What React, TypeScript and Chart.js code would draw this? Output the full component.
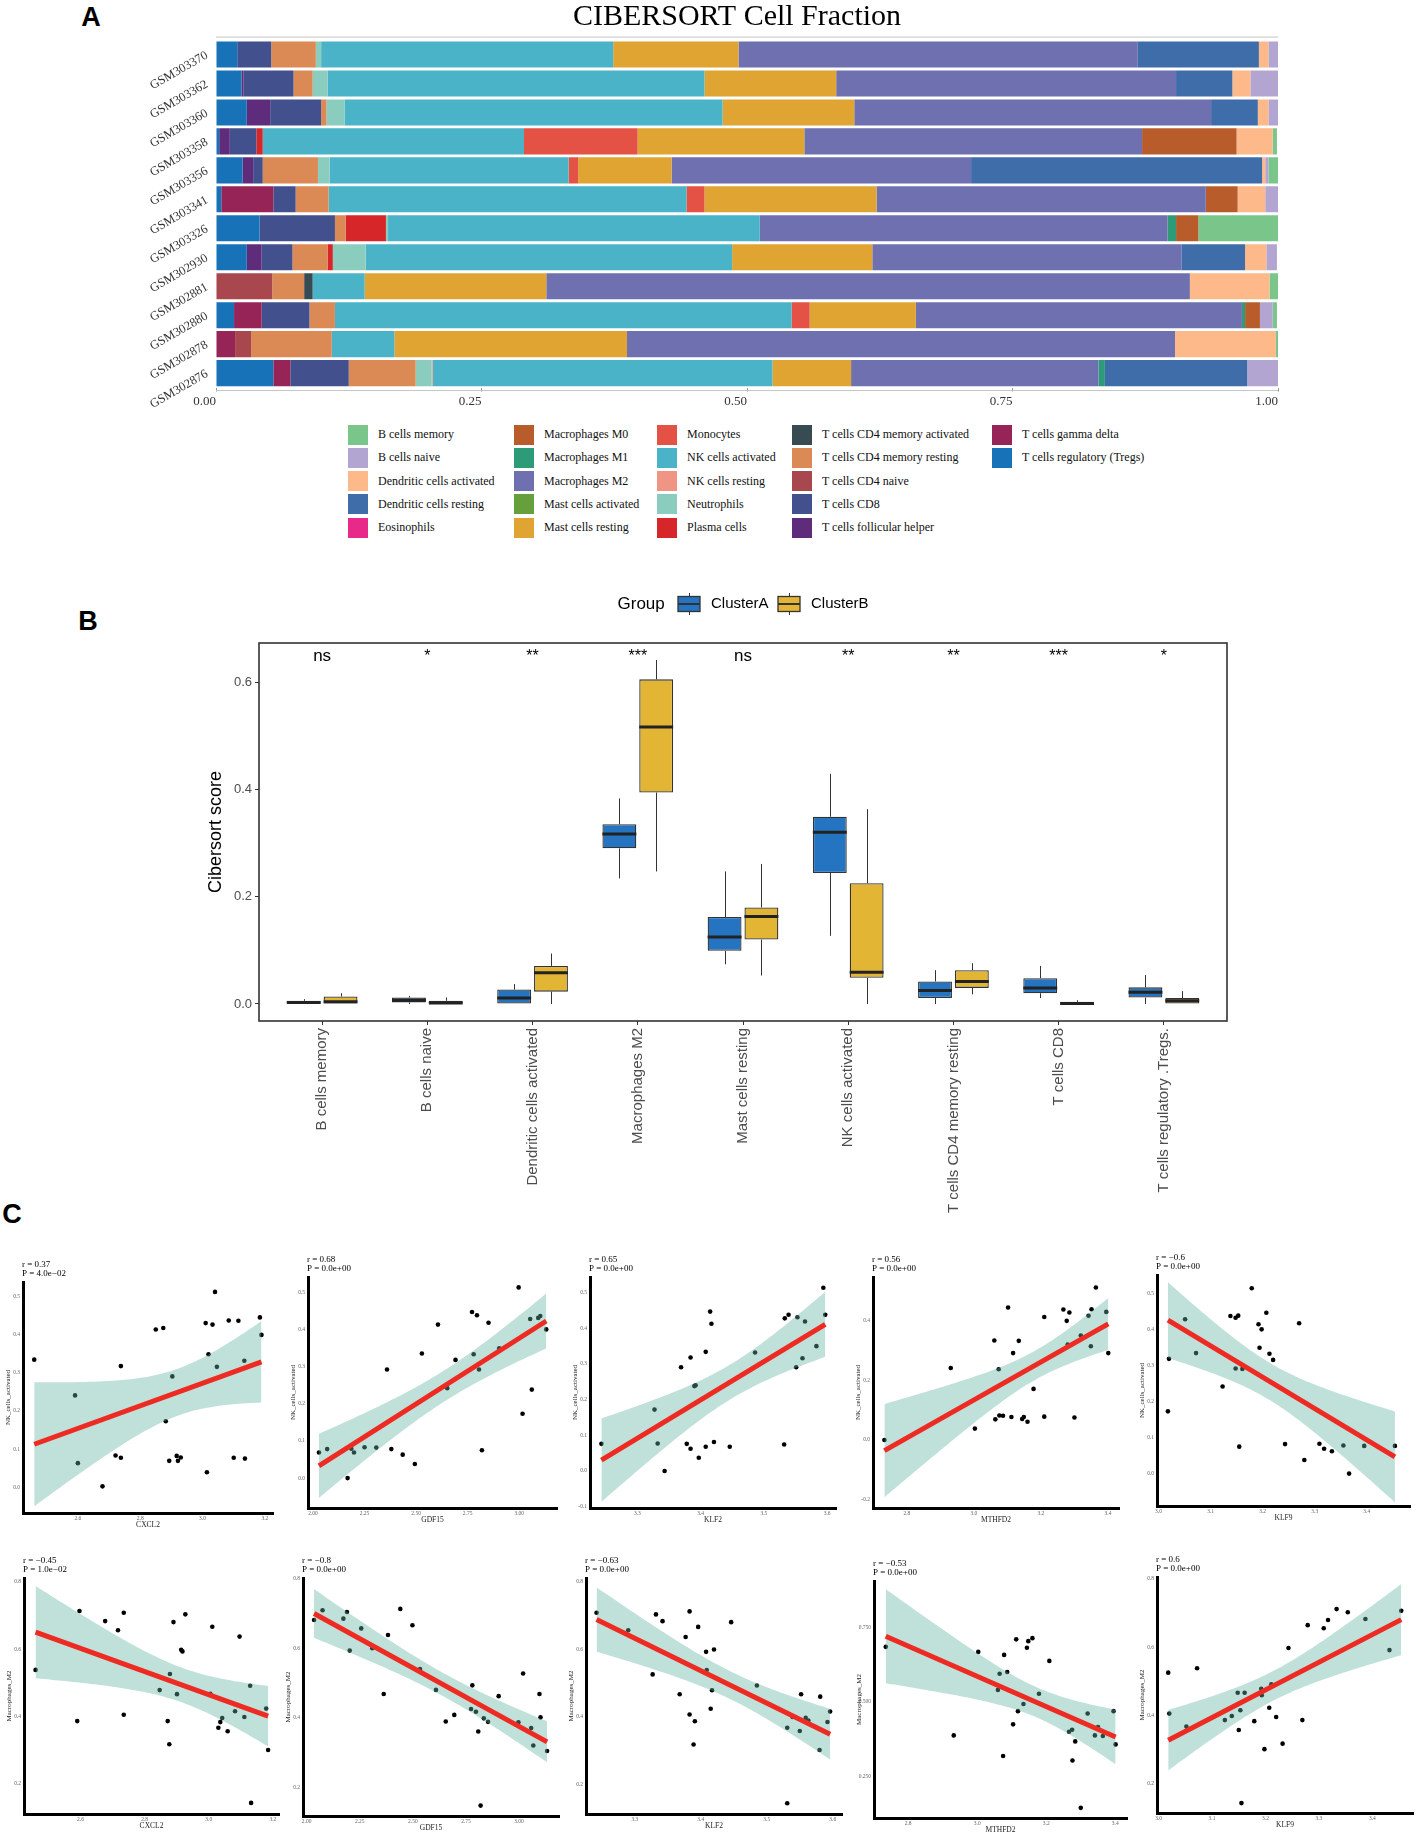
import React, { useEffect, useRef } from "react";
import { Chart, registerables } from "chart.js";

Chart.register(...registerables);

// ================= Panel A : CIBERSORT cell fractions =================
const samples = ["GSM303370", "GSM303362", "GSM303360", "GSM303358", "GSM303356", "GSM303341", "GSM303326", "GSM302930", "GSM302881", "GSM302880", "GSM302878", "GSM302876"];
const fractionTicks = [0, 0.25, 0.5, 0.75, 1];

const bCellsMemory = [0, 0, 0, 0.004, 0.009, 0, 0.075, 0, 0.009, 0.004, 0.003, 0];
const bCellsNaive = [0.009, 0.027, 0.009, 0, 0.003, 0.013, 0, 0.01, 0, 0.012, 0, 0.029];
const dcActivated = [0.009, 0.017, 0.01, 0.034, 0.003, 0.026, 0, 0.02, 0.075, 0, 0.095, 0];
const dcResting = [0.114, 0.053, 0.044, 0, 0.274, 0, 0, 0.06, 0, 0, 0, 0.134];
const eosinophils = [0, 0, 0, 0, 0, 0, 0, 0, 0, 0, 0, 0];
const macrophagesM0 = [0, 0, 0, 0.089, 0, 0.03, 0.021, 0, 0, 0.014, 0, 0];
const macrophagesM1 = [0, 0, 0, 0, 0, 0, 0.008, 0, 0, 0.003, 0, 0.006];
const macrophagesM2 = [0.376, 0.32, 0.336, 0.318, 0.282, 0.31, 0.384, 0.291, 0.606, 0.307, 0.516, 0.233];
const mastActivated = [0, 0, 0, 0, 0, 0, 0, 0, 0, 0, 0, 0];
const mastResting = [0.118, 0.124, 0.124, 0.157, 0.088, 0.162, 0, 0.132, 0.171, 0.1, 0.219, 0.074];
const monocytes = [0, 0, 0, 0.107, 0.009, 0.017, 0, 0, 0, 0.017, 0, 0];
const nkActivated = [0.275, 0.355, 0.356, 0.246, 0.225, 0.337, 0.35, 0.345, 0.049, 0.43, 0.059, 0.32];
const nkResting = [0, 0, 0, 0, 0, 0, 0, 0, 0, 0, 0, 0.001];
const neutrophils = [0.005, 0.014, 0.017, 0, 0.011, 0, 0.002, 0.031, 0, 0, 0, 0.015];
const plasmaCells = [0, 0, 0, 0.006, 0, 0, 0.038, 0.005, 0, 0, 0, 0];
const cd4MemoryActivated = [0, 0, 0, 0, 0, 0, 0, 0, 0.008, 0, 0, 0];
const cd4MemoryResting = [0.042, 0.018, 0.005, 0, 0.052, 0.031, 0.01, 0.033, 0.03, 0.024, 0.076, 0.063];
const cd4Naive = [0, 0, 0, 0, 0, 0, 0, 0, 0.053, 0, 0.015, 0];
const cd8 = [0.032, 0.047, 0.048, 0.025, 0.009, 0.021, 0.071, 0.029, 0, 0.045, 0, 0.055];
const follicularHelper = [0, 0.002, 0.022, 0.01, 0.01, 0, 0, 0.014, 0, 0, 0, 0];
const gammaDelta = [0, 0, 0, 0, 0, 0.049, 0, 0, 0, 0.026, 0.018, 0.016];
const tregs = [0.02, 0.024, 0.029, 0.003, 0.025, 0.005, 0.041, 0.029, 0, 0.017, 0, 0.054];

const cellTypes = [
  "B cells memory", "B cells naive", "Dendritic cells activated", "Dendritic cells resting", "Eosinophils",
  "Macrophages M0", "Macrophages M1", "Macrophages M2", "Mast cells activated", "Mast cells resting",
  "Monocytes", "NK cells activated", "NK cells resting", "Neutrophils", "Plasma cells",
  "T cells CD4 memory activated", "T cells CD4 memory resting", "T cells CD4 naive", "T cells CD8", "T cells follicular helper",
  "T cells gamma delta", "T cells regulatory (Tregs)",
];
const cellColors = [
  "#7AC68A", "#B3A5D1", "#FDB98A", "#3E6DA9", "#E7298A",
  "#B85C2C", "#2E9B78", "#6E70AF", "#66A03D", "#E0A432",
  "#E35244", "#4AB3C8", "#F09483", "#8ACDBF", "#D62629",
  "#384B53", "#DB8A55", "#A8474D", "#43508E", "#5E2C7A",
  "#962457", "#1772B8",
];
const cellValues = [
  bCellsMemory, bCellsNaive, dcActivated, dcResting, eosinophils,
  macrophagesM0, macrophagesM1, macrophagesM2, mastActivated, mastResting,
  monocytes, nkActivated, nkResting, neutrophils, plasmaCells,
  cd4MemoryActivated, cd4MemoryResting, cd4Naive, cd8, follicularHelper,
  gammaDelta, tregs,
];

// ================= Panel B : box plots =================
const boxCategories = ["B cells memory", "B cells naive", "Dendritic cells activated", "Macrophages M2", "Mast cells resting", "NK cells activated", "T cells CD4 memory resting", "T cells CD8", "T cells regulatory .Tregs."];
const significance = ["ns", "*", "**", "***", "ns", "**", "**", "***", "*"];
const scoreTicks = [0, 0.2, 0.4, 0.6];

const clusterAMin = [0, 0, 0, 0.234, 0.074, 0.127, 0, 0.011, 0];
const clusterAQ1 = [0, 0.003, 0, 0.29, 0.099, 0.244, 0.011, 0.02, 0.012];
const clusterAMedian = [0.003, 0.007, 0.011, 0.317, 0.125, 0.32, 0.025, 0.03, 0.022];
const clusterAQ3 = [0.006, 0.012, 0.027, 0.335, 0.162, 0.349, 0.042, 0.048, 0.031];
const clusterAMax = [0.009, 0.015, 0.037, 0.383, 0.247, 0.429, 0.063, 0.071, 0.054];

const clusterBMin = [0, 0, 0, 0.247, 0.053, 0, 0.018, 0, 0];
const clusterBQ1 = [0, 0, 0.023, 0.394, 0.12, 0.049, 0.03, 0, 0];
const clusterBMedian = [0.004, 0.002, 0.058, 0.516, 0.163, 0.059, 0.042, 0.001, 0.006];
const clusterBQ3 = [0.014, 0.006, 0.071, 0.605, 0.18, 0.225, 0.063, 0.004, 0.011];
const clusterBMax = [0.02, 0.012, 0.094, 0.641, 0.261, 0.363, 0.076, 0.007, 0.024];

// ================= Panel C : correlation scatter plots =================
const cxcl2NkX = [2.46, 2.591, 2.6, 2.679, 2.721, 2.738, 2.738, 2.85, 2.874, 2.882, 2.893, 2.903, 2.917, 2.921, 2.93, 3.01, 3.014, 3.019, 3.032, 3.04, 3.046, 3.084, 3.1, 3.115, 3.134, 3.136, 3.184, 3.189];
const cxcl2NkY = [0.335, 0.241, 0.063, 0.002, 0.083, 0.077, 0.318, 0.414, 0.418, 0.173, 0.069, 0.291, 0.082, 0.069, 0.078, 0.431, 0.039, 0.349, 0.427, 0.513, 0.316, 0.438, 0.077, 0.437, 0.332, 0.075, 0.446, 0.4];

const gdf15NkX = [2.029, 2.069, 2.168, 2.186, 2.199, 2.25, 2.307, 2.359, 2.38, 2.435, 2.494, 2.528, 2.606, 2.651, 2.691, 2.771, 2.779, 2.795, 2.805, 2.819, 2.851, 2.903, 2.997, 3.016, 3.053, 3.061, 3.092, 3.102, 3.131];
const gdf15NkY = [0.069, 0.078, 0.0, 0.079, 0.069, 0.083, 0.082, 0.292, 0.078, 0.063, 0.038, 0.335, 0.413, 0.242, 0.318, 0.447, 0.333, 0.438, 0.292, 0.075, 0.418, 0.349, 0.513, 0.173, 0.428, 0.238, 0.431, 0.436, 0.4];

const klf2NkX = [3.243, 3.327, 3.332, 3.343, 3.369, 3.378, 3.384, 3.384, 3.39, 3.392, 3.397, 3.408, 3.408, 3.415, 3.417, 3.421, 3.446, 3.486, 3.532, 3.533, 3.539, 3.551, 3.553, 3.561, 3.565, 3.583, 3.597, 3.594];
const klf2NkY = [0.076, 0.172, 0.077, 0.0, 0.291, 0.076, 0.318, 0.062, 0.238, 0.24, 0.037, 0.334, 0.068, 0.447, 0.413, 0.081, 0.068, 0.332, 0.074, 0.428, 0.438, 0.291, 0.431, 0.316, 0.419, 0.35, 0.438, 0.514];

const mthfd2NkX = [2.733, 2.931, 3.003, 3.061, 3.064, 3.074, 3.076, 3.087, 3.102, 3.112, 3.117, 3.134, 3.144, 3.149, 3.16, 3.178, 3.21, 3.21, 3.267, 3.28, 3.277, 3.285, 3.3, 3.319, 3.342, 3.349, 3.351, 3.364, 3.395, 3.401];
const mthfd2NkY = [0.0, 0.241, 0.038, 0.333, 0.069, 0.237, 0.082, 0.081, 0.444, 0.077, 0.291, 0.332, 0.07, 0.077, 0.061, 0.171, 0.078, 0.412, 0.437, 0.32, 0.399, 0.427, 0.075, 0.35, 0.416, 0.314, 0.438, 0.511, 0.429, 0.291];

const klf9NkX = [3.018, 3.02, 3.051, 3.072, 3.123, 3.138, 3.148, 3.148, 3.153, 3.155, 3.161, 3.179, 3.192, 3.194, 3.198, 3.207, 3.213, 3.22, 3.243, 3.27, 3.28, 3.309, 3.318, 3.333, 3.355, 3.366, 3.395, 3.454];
const klf9NkY = [0.173, 0.319, 0.429, 0.335, 0.242, 0.438, 0.433, 0.292, 0.439, 0.075, 0.291, 0.515, 0.415, 0.35, 0.401, 0.447, 0.333, 0.316, 0.082, 0.418, 0.038, 0.083, 0.069, 0.062, 0.078, 0.0, 0.077, 0.077];

const cxcl2M2X = [2.46, 2.59, 2.597, 2.677, 2.717, 2.735, 2.735, 2.847, 2.872, 2.877, 2.879, 2.89, 2.901, 2.914, 2.918, 2.927, 3.005, 3.011, 3.03, 3.036, 3.042, 3.059, 3.082, 3.096, 3.111, 3.129, 3.132, 3.179, 3.185];
const cxcl2M2Y = [0.539, 0.387, 0.714, 0.684, 0.657, 0.406, 0.709, 0.479, 0.387, 0.318, 0.527, 0.681, 0.467, 0.599, 0.594, 0.704, 0.468, 0.667, 0.367, 0.384, 0.396, 0.357, 0.416, 0.638, 0.399, 0.492, 0.144, 0.424, 0.301];

const gdf15M2X = [2.035, 2.075, 2.173, 2.19, 2.203, 2.257, 2.309, 2.363, 2.383, 2.441, 2.498, 2.534, 2.609, 2.655, 2.695, 2.774, 2.78, 2.797, 2.808, 2.819, 2.834, 2.854, 2.904, 2.997, 3.019, 3.057, 3.096, 3.101, 3.067, 3.132];
const gdf15M2Y = [0.681, 0.709, 0.685, 0.704, 0.593, 0.657, 0.6, 0.468, 0.638, 0.713, 0.666, 0.54, 0.48, 0.389, 0.408, 0.425, 0.493, 0.417, 0.36, 0.147, 0.398, 0.388, 0.462, 0.387, 0.527, 0.37, 0.468, 0.401, 0.32, 0.304];

const klf2M2X = [3.242, 3.29, 3.327, 3.332, 3.342, 3.368, 3.377, 3.383, 3.383, 3.389, 3.391, 3.396, 3.408, 3.409, 3.415, 3.417, 3.42, 3.446, 3.485, 3.531, 3.531, 3.539, 3.55, 3.552, 3.559, 3.563, 3.58, 3.581, 3.592, 3.596];
const klf2M2Y = [0.709, 0.657, 0.526, 0.704, 0.684, 0.467, 0.637, 0.713, 0.407, 0.318, 0.387, 0.667, 0.593, 0.539, 0.424, 0.479, 0.6, 0.681, 0.493, 0.368, 0.144, 0.4, 0.358, 0.467, 0.397, 0.389, 0.302, 0.46, 0.385, 0.416];

const mthfd2M2X = [2.735, 2.932, 3.003, 3.06, 3.065, 3.075, 3.078, 3.087, 3.104, 3.113, 3.118, 3.134, 3.144, 3.148, 3.16, 3.179, 3.209, 3.266, 3.275, 3.276, 3.284, 3.3, 3.32, 3.341, 3.35, 3.364, 3.395, 3.401];
const mthfd2M2Y = [0.684, 0.388, 0.667, 0.54, 0.594, 0.319, 0.657, 0.6, 0.425, 0.709, 0.469, 0.493, 0.681, 0.703, 0.713, 0.527, 0.637, 0.4, 0.407, 0.304, 0.368, 0.146, 0.461, 0.388, 0.416, 0.386, 0.469, 0.358];

const klf9M2X = [3.018, 3.02, 3.052, 3.072, 3.124, 3.137, 3.148, 3.15, 3.153, 3.155, 3.161, 3.179, 3.192, 3.193, 3.198, 3.207, 3.211, 3.22, 3.232, 3.243, 3.269, 3.279, 3.309, 3.317, 3.333, 3.354, 3.387, 3.432, 3.454];
const klf9M2Y = [0.526, 0.406, 0.368, 0.539, 0.387, 0.399, 0.467, 0.358, 0.416, 0.144, 0.467, 0.384, 0.479, 0.46, 0.302, 0.423, 0.492, 0.396, 0.318, 0.598, 0.387, 0.665, 0.656, 0.68, 0.712, 0.703, 0.683, 0.592, 0.707];

const nkTicks = [0, 0.1, 0.2, 0.3, 0.4, 0.5];
const nkTicksKlf2 = [-0.1, 0, 0.1, 0.2, 0.3, 0.4, 0.5];
const nkTicksMthfd2 = [-0.2, 0, 0.2, 0.4];
const m2Ticks = [0.2, 0.4, 0.6, 0.8];
const m2TicksMthfd2 = [0.25, 0.5, 0.75];
const cxcl2Ticks = [2.6, 2.8, 3.0, 3.2];
const gdf15Ticks = [2.0, 2.25, 2.5, 2.75, 3.0];
const klf2Ticks = [3.3, 3.4, 3.5, 3.6];
const mthfd2Ticks = [2.8, 3.0, 3.2, 3.4];
const klf9Ticks = [3.0, 3.1, 3.2, 3.3, 3.4];

const MINUS = "\u2212";

const scatterPanels = [
  { xs: cxcl2NkX, ys: cxcl2NkY, gene: "CXCL2", cell: "NK_cells_activated", r: "r = 0.37", p: `P = 4.0e${MINUS}02`, xRange: [2.424, 3.226], yRange: [-0.068, 0.539], xTicks: cxcl2Ticks, yTicks: nkTicks, xDec: 1, yDec: 1, box: { l: 23, t: 1282, r: 273, b: 1513 } },
  { xs: gdf15NkX, ys: gdf15NkY, gene: "GDF15", cell: "NK_cells_activated", r: "r = 0.68", p: "P = 0.0e+00", xRange: [1.976, 3.183], yRange: [-0.0805, 0.541], xTicks: gdf15Ticks, yTicks: nkTicks, xDec: 2, yDec: 1, box: { l: 308, t: 1277, r: 557, b: 1508 } },
  { xs: klf2NkX, ys: klf2NkY, gene: "KLF2", cell: "NK_cells_activated", r: "r = 0.65", p: "P = 0.0e+00", xRange: [3.225, 3.614], yRange: [-0.104, 0.544], xTicks: klf2Ticks, yTicks: nkTicksKlf2, xDec: 1, yDec: 1, box: { l: 590, t: 1277, r: 836, b: 1508 } },
  { xs: mthfd2NkX, ys: mthfd2NkY, gene: "MTHFD2", cell: "NK_cells_activated", r: "r = 0.56", p: "P = 0.0e+00", xRange: [2.699, 3.433], yRange: [-0.228, 0.546], xTicks: mthfd2Ticks, yTicks: nkTicksMthfd2, xDec: 1, yDec: 1, box: { l: 873, t: 1277, r: 1119, b: 1508 } },
  { xs: klf9NkX, ys: klf9NkY, gene: "KLF9", cell: "NK_cells_activated", r: `r = ${MINUS}0.6`, p: "P = 0.0e+00", xRange: [2.997, 3.483], yRange: [-0.09, 0.552], xTicks: klf9Ticks, yTicks: nkTicks, xDec: 1, yDec: 1, box: { l: 1157, t: 1275, r: 1410, b: 1506 } },
  { xs: cxcl2M2X, ys: cxcl2M2Y, gene: "CXCL2", cell: "Macrophages_M2", r: `r = ${MINUS}0.45`, p: `P = 1.0e${MINUS}02`, xRange: [2.424, 3.219], yRange: [0.111, 0.812], xTicks: cxcl2Ticks, yTicks: m2Ticks, xDec: 1, yDec: 1, box: { l: 24, t: 1578, r: 279, b: 1814 } },
  { xs: gdf15M2X, ys: gdf15M2Y, gene: "GDF15", cell: "Macrophages_M2", r: `r = ${MINUS}0.8`, p: "P = 0.0e+00", xRange: [1.983, 3.188], yRange: [0.117, 0.802], xTicks: gdf15Ticks, yTicks: m2Ticks, xDec: 2, yDec: 1, box: { l: 303, t: 1578, r: 559, b: 1816 } },
  { xs: klf2M2X, ys: klf2M2Y, gene: "KLF2", cell: "Macrophages_M2", r: `r = ${MINUS}0.63`, p: "P = 0.0e+00", xRange: [3.226, 3.614], yRange: [0.112, 0.812], xTicks: klf2Ticks, yTicks: m2Ticks, xDec: 1, yDec: 1, box: { l: 586, t: 1578, r: 842, b: 1814 } },
  { xs: mthfd2M2X, ys: mthfd2M2Y, gene: "MTHFD2", cell: "Macrophages_M2", r: `r = ${MINUS}0.53`, p: "P = 0.0e+00", xRange: [2.701, 3.434], yRange: [0.112, 0.904], xTicks: mthfd2Ticks, yTicks: m2TicksMthfd2, xDec: 1, yDec: 3, box: { l: 874, t: 1581, r: 1127, b: 1818 } },
  { xs: klf9M2X, ys: klf9M2Y, gene: "KLF9", cell: "Macrophages_M2", r: "r = 0.6", p: "P = 0.0e+00", xRange: [2.997, 3.476], yRange: [0.115, 0.806], xTicks: klf9Ticks, yTicks: m2Ticks, xDec: 1, yDec: 1, box: { l: 1157, t: 1577, r: 1413, b: 1813 } },
];

// ================= helpers =================
const SERIF = '"Liberation Serif", "Times New Roman", serif';
const SANS = '"Liberation Sans", Arial, sans-serif';

function tCrit(df: number) {
  const z = 1.959964;
  const g1 = (z ** 3 + z) / 4;
  const g2 = (5 * z ** 5 + 16 * z ** 3 + 3 * z) / 96;
  const g3 = (3 * z ** 7 + 19 * z ** 5 + 17 * z ** 3 - 15 * z) / 384;
  return z + g1 / df + g2 / df ** 2 + g3 / df ** 3;
}

function fitRegression(xs: number[], ys: number[]) {
  const n = xs.length;
  const mx = xs.reduce((a, b) => a + b, 0) / n;
  const my = ys.reduce((a, b) => a + b, 0) / n;
  let sxx = 0, sxy = 0;
  for (let i = 0; i < n; i++) {
    sxx += (xs[i] - mx) ** 2;
    sxy += (xs[i] - mx) * (ys[i] - my);
  }
  const b = sxy / sxx;
  const a = my - b * mx;
  let sse = 0;
  for (let i = 0; i < n; i++) sse += (ys[i] - a - b * xs[i]) ** 2;
  const s = Math.sqrt(sse / (n - 2));
  const t = tCrit(n - 2);
  const x0 = Math.min(...xs), x1 = Math.max(...xs);
  const steps = 80;
  const upper: any[] = [], lower: any[] = [];
  for (let k = 0; k <= steps; k++) {
    const x = x0 + ((x1 - x0) * k) / steps;
    const yhat = a + b * x;
    const se = s * Math.sqrt(1 / n + (x - mx) ** 2 / sxx);
    upper.push({ x, y: yhat + t * se });
    lower.push({ x, y: yhat - t * se });
  }
  return { line: [{ x: x0, y: a + b * x0 }, { x: x1, y: a + b * x1 }], upper, lower };
}

function useChart(ref: any, makeConfig: () => any) {
  useEffect(() => {
    const chart = new Chart(ref.current, makeConfig());
    return () => chart.destroy();
  }, []);
}

// ================= Panel A =================
const A_LEFT = 120, A_TOP = 0, A_W = 1180, A_H = 420;

function PanelA() {
  const ref = useRef<HTMLCanvasElement>(null);
  useChart(ref, () => {
    const datasets = cellTypes
      .map((name, i) => ({
        label: name,
        data: cellValues[i],
        backgroundColor: cellColors[i],
        borderWidth: 0,
        barPercentage: 0.9,
        categoryPercentage: 1,
      }))
      .reverse();
    const plugin = {
      id: "panelADecor",
      beforeDatasetsDraw(chart: any) {
        const { ctx, chartArea: ca } = chart;
        const pitch = (ca.bottom - ca.top) / samples.length;
        ctx.save();
        ctx.strokeStyle = "#C6C6C6";
        ctx.lineWidth = 1;
        ctx.beginPath();
        ctx.moveTo(ca.left, ca.top - 0.1 * pitch);
        ctx.lineTo(ca.right, ca.top - 0.1 * pitch);
        ctx.moveTo(ca.left, ca.bottom + 0.1 * pitch);
        ctx.lineTo(ca.right, ca.bottom + 0.1 * pitch);
        ctx.stroke();
        ctx.restore();
      },
      afterDraw(chart: any) {
        const { ctx, chartArea: ca } = chart;
        const yScale = chart.scales.y;
        ctx.save();
        ctx.fillStyle = "#000";
        ctx.font = `30px ${SERIF}`;
        ctx.textAlign = "center";
        ctx.textBaseline = "alphabetic";
        ctx.fillText("CIBERSORT Cell Fraction", (ca.left + ca.right) / 2 - 10, 25);
        ctx.font = `12.5px ${SERIF}`;
        ctx.fillStyle = "#333";
        ctx.textAlign = "right";
        ctx.textBaseline = "middle";
        samples.forEach((s, i) => {
          const y = yScale.getPixelForTick(i);
          ctx.save();
          ctx.translate(ca.left - 9, y);
          ctx.rotate(-Math.PI / 6);
          ctx.fillText(s, 0, 0);
          ctx.restore();
        });
        ctx.restore();
      },
    };
    return {
      type: "bar",
      data: { labels: samples, datasets },
      options: {
        animation: false,
        responsive: false,
        indexAxis: "y",
        layout: { padding: { top: 40, right: 22, left: 0, bottom: 0 } },
        plugins: { legend: { display: false }, tooltip: { enabled: false }, title: { display: false } },
        scales: {
          x: {
            type: "linear",
            stacked: true,
            min: 0,
            max: 1,
            afterBuildTicks: (s: any) => { s.ticks = fractionTicks.map((v) => ({ value: v })); },
            ticks: { callback: (v: any) => Number(v).toFixed(2), font: { family: SERIF, size: 13 }, color: "#333", padding: 2, maxRotation: 0, autoSkip: false, align: "end" },
            grid: { display: true, drawOnChartArea: false, drawTicks: true, tickLength: 4, color: "#999" },
            border: { display: false },
            afterFit: (s: any) => { s.height = 32.4; s.paddingLeft = 0; s.paddingRight = 0; },
          },
          y: {
            stacked: true,
            ticks: { display: false },
            grid: { display: false, drawTicks: false },
            border: { display: false },
            afterFit: (s: any) => { s.width = 96; s.paddingTop = 0; s.paddingBottom = 0; },
          },
        },
      },
      plugins: [plugin],
    };
  });
  return (
    <canvas ref={ref} width={A_W} height={A_H} style={{ position: "absolute", left: A_LEFT, top: A_TOP, width: A_W, height: A_H }} />
  );
}

const legendColLeft = [348, 514, 657, 792, 992];
function LegendA() {
  return (
    <>
      {cellTypes.map((name, i) => {
        const col = Math.floor(i / 5);
        const row = i % 5;
        return (
          <div key={name} style={{ position: "absolute", left: legendColLeft[col], top: 424.5 + row * 23.3, height: 20, display: "flex", alignItems: "center", whiteSpace: "nowrap" }}>
            <span style={{ display: "inline-block", width: 20, height: 20, background: cellColors[i] }} />
            <span style={{ marginLeft: 10, font: `12px ${SERIF}`, color: "#111" }}>{name}</span>
          </div>
        );
      })}
    </>
  );
}

// ================= Panel B =================
const B_LEFT = 170, B_TOP = 585, B_W = 1070, B_H = 630;
const COLOR_A = "#2474C2";
const COLOR_B = "#E2B534";

function PanelB() {
  const ref = useRef<HTMLCanvasElement>(null);
  useChart(ref, () => {
    const stats = [
      { min: clusterAMin, med: clusterAMedian, max: clusterAMax, q1: clusterAQ1, q3: clusterAQ3 },
      { min: clusterBMin, med: clusterBMedian, max: clusterBMax, q1: clusterBQ1, q3: clusterBQ3 },
    ];
    const mk = (label: string, color: string, st: any) => ({
      label,
      data: boxCategories.map((_, i) => ({ x: i, y: [st.q1[i], st.q3[i]] })),
      backgroundColor: color,
      borderColor: "#333",
      borderWidth: 1.3,
      borderSkipped: false,
      categoryPercentage: 0.7,
      barPercentage: 0.92,
    });
    const plugin = {
      id: "boxDecor",
      beforeDatasetsDraw(chart: any) {
        const { ctx } = chart;
        const yS = chart.scales.y;
        ctx.save();
        ctx.strokeStyle = "#333";
        ctx.lineWidth = 1;
        stats.forEach((st, d) => {
          const meta = chart.getDatasetMeta(d);
          meta.data.forEach((el: any, i: number) => {
            const x = Math.round(el.x) + 0.5;
            ctx.beginPath();
            ctx.moveTo(x, yS.getPixelForValue(st.max[i]));
            ctx.lineTo(x, yS.getPixelForValue(st.q3[i]));
            ctx.moveTo(x, yS.getPixelForValue(st.q1[i]));
            ctx.lineTo(x, yS.getPixelForValue(st.min[i]));
            ctx.stroke();
          });
        });
        ctx.restore();
      },
      afterDatasetsDraw(chart: any) {
        const { ctx } = chart;
        const yS = chart.scales.y;
        ctx.save();
        ctx.strokeStyle = "#222";
        ctx.lineWidth = 3;
        stats.forEach((st, d) => {
          const meta = chart.getDatasetMeta(d);
          meta.data.forEach((el: any, i: number) => {
            const y = yS.getPixelForValue(st.med[i]);
            ctx.beginPath();
            ctx.moveTo(el.x - el.width / 2, y);
            ctx.lineTo(el.x + el.width / 2, y);
            ctx.stroke();
          });
        });
        ctx.restore();
      },
      afterDraw(chart: any) {
        const { ctx, chartArea: ca } = chart;
        const xS = chart.scales.x;
        ctx.save();
        ctx.strokeStyle = "#333";
        ctx.lineWidth = 1.6;
        ctx.strokeRect(ca.left, ca.top, ca.right - ca.left, ca.bottom - ca.top);
        ctx.fillStyle = "#000";
        ctx.textAlign = "center";
        ctx.textBaseline = "alphabetic";
        significance.forEach((s, i) => {
          ctx.font = s === "ns" ? `17px ${SANS}` : `16px ${SANS}`;
          ctx.fillText(s, xS.getPixelForValue(i), 76);
        });
        ctx.save();
        ctx.translate(46, (ca.top + ca.bottom) / 2);
        ctx.rotate(-Math.PI / 2);
        ctx.font = `18px ${SANS}`;
        ctx.textBaseline = "middle";
        ctx.fillText("Cibersort score", 0, 0);
        ctx.restore();
        const ly = 19;
        ctx.font = `17px ${SANS}`;
        ctx.textAlign = "left";
        ctx.textBaseline = "middle";
        ctx.fillStyle = "#000";
        ctx.fillText("Group", 447.5, ly);
        const keys = [
          { cx: 519, color: COLOR_A, label: "ClusterA", tx: 541 },
          { cx: 619, color: COLOR_B, label: "ClusterB", tx: 641 },
        ];
        keys.forEach((k) => {
          ctx.strokeStyle = "#333";
          ctx.lineWidth = 1;
          ctx.beginPath();
          ctx.moveTo(k.cx + 0.5, ly - 11);
          ctx.lineTo(k.cx + 0.5, ly + 11);
          ctx.stroke();
          ctx.fillStyle = k.color;
          ctx.fillRect(k.cx - 11, ly - 7.5, 22, 15);
          ctx.lineWidth = 1.3;
          ctx.strokeRect(k.cx - 11, ly - 7.5, 22, 15);
          ctx.lineWidth = 2;
          ctx.beginPath();
          ctx.moveTo(k.cx - 11, ly);
          ctx.lineTo(k.cx + 11, ly);
          ctx.stroke();
          ctx.fillStyle = "#000";
          ctx.font = `15px ${SANS}`;
          ctx.fillText(k.label, k.tx, ly);
        });
        ctx.restore();
      },
    };
    return {
      type: "bar",
      data: { datasets: [mk("ClusterA", COLOR_A, { q1: clusterAQ1, q3: clusterAQ3 }), mk("ClusterB", COLOR_B, { q1: clusterBQ1, q3: clusterBQ3 })] },
      options: {
        animation: false,
        responsive: false,
        layout: { padding: { top: 58, right: 13, left: 0, bottom: 0 } },
        plugins: { legend: { display: false }, tooltip: { enabled: false } },
        scales: {
          x: {
            type: "linear",
            min: -0.6,
            max: 8.6,
            offset: false,
            afterBuildTicks: (s: any) => { s.ticks = boxCategories.map((_, i) => ({ value: i })); },
            ticks: { callback: (v: any) => boxCategories[Math.round(v)], minRotation: 90, maxRotation: 90, autoSkip: false, font: { family: SANS, size: 15 }, color: "#4D4D4D", padding: 3 },
            grid: { display: true, offset: false, drawOnChartArea: false, drawTicks: true, tickLength: 4, color: "#333" },
            border: { display: false },
            afterFit: (s: any) => { s.height = 194; s.paddingLeft = 0; s.paddingRight = 0; },
          },
          y: {
            type: "linear",
            min: -0.0317,
            max: 0.6727,
            afterBuildTicks: (s: any) => { s.ticks = scoreTicks.map((v) => ({ value: v })); },
            ticks: { callback: (v: any) => Number(v).toFixed(1), font: { family: SANS, size: 13 }, color: "#4D4D4D", padding: 3 },
            grid: { display: true, drawOnChartArea: false, drawTicks: true, tickLength: 4, color: "#333" },
            border: { display: false },
            afterFit: (s: any) => { s.width = 89; s.paddingTop = 0; s.paddingBottom = 0; },
          },
        },
      },
      plugins: [plugin],
    };
  });
  return (
    <canvas ref={ref} width={B_W} height={B_H} style={{ position: "absolute", left: B_LEFT, top: B_TOP, width: B_W, height: B_H }} />
  );
}

// ================= Panel C =================
const S_LEFT_PAD = 22, S_TOP_PAD = 24, S_RIGHT_PAD = 4, S_BOTTOM_PAD = 22;

function ScatterPanel({ spec }: { spec: any }) {
  const ref = useRef<HTMLCanvasElement>(null);
  const w = spec.box.r - spec.box.l + S_LEFT_PAD + S_RIGHT_PAD;
  const h = spec.box.b - spec.box.t + S_TOP_PAD + S_BOTTOM_PAD;
  useChart(ref, () => {
    const fit = fitRegression(spec.xs, spec.ys);
    const plugin = {
      id: "scatterText",
      afterDraw(chart: any) {
        const { ctx, chartArea: ca } = chart;
        ctx.save();
        ctx.fillStyle = "#000";
        ctx.font = `9px ${SERIF}`;
        ctx.textAlign = "left";
        ctx.textBaseline = "alphabetic";
        ctx.fillText(spec.r, ca.left - 1, ca.top - 15.5);
        ctx.fillText(spec.p, ca.left - 1, ca.top - 6.5);
        ctx.fillStyle = "#222";
        ctx.font = `7.5px ${SERIF}`;
        ctx.textAlign = "center";
        ctx.textBaseline = "middle";
        ctx.fillText(spec.gene, (ca.left + ca.right) / 2, ca.bottom + 12.5);
        ctx.translate(ca.left - 15, (ca.top + ca.bottom) / 2);
        ctx.rotate(-Math.PI / 2);
        ctx.font = `7px ${SERIF}`;
        ctx.fillText(spec.cell, 0, 0);
        ctx.restore();
      },
    };
    const tickFont = { family: SERIF, size: 5.5 };
    return {
      type: "scatter",
      data: {
        datasets: [
          { type: "line", data: fit.line, borderColor: "#EE2B23", borderWidth: 5, pointRadius: 0, fill: false, order: 0, borderCapStyle: "butt", tension: 0 },
          { type: "line", data: fit.upper, borderColor: "rgba(0,0,0,0)", borderWidth: 0, pointRadius: 0, fill: "+1", backgroundColor: "rgba(98,178,162,0.4)", order: 1, tension: 0 },
          { type: "line", data: fit.lower, borderColor: "rgba(0,0,0,0)", borderWidth: 0, pointRadius: 0, fill: false, order: 1, tension: 0 },
          { type: "scatter", data: spec.xs.map((x: number, i: number) => ({ x, y: spec.ys[i] })), pointRadius: 2.3, backgroundColor: "#000", borderWidth: 0, pointBorderWidth: 0, order: 2 },
        ],
      },
      options: {
        animation: false,
        responsive: false,
        layout: { padding: { top: S_TOP_PAD, right: S_RIGHT_PAD, left: 0, bottom: 0 } },
        plugins: { legend: { display: false }, tooltip: { enabled: false } },
        scales: {
          x: {
            type: "linear",
            min: spec.xRange[0],
            max: spec.xRange[1],
            afterBuildTicks: (s: any) => { s.ticks = spec.xTicks.map((v: number) => ({ value: v })); },
            ticks: { callback: (v: any) => Number(v).toFixed(spec.xDec), font: tickFont, color: "#666", padding: 2, maxRotation: 0, autoSkip: false },
            grid: { display: false, drawTicks: false },
            border: { display: true, color: "#000", width: 3 },
            afterFit: (s: any) => { s.height = S_BOTTOM_PAD; s.paddingLeft = 0; s.paddingRight = 0; },
          },
          y: {
            type: "linear",
            min: spec.yRange[0],
            max: spec.yRange[1],
            afterBuildTicks: (s: any) => { s.ticks = spec.yTicks.map((v: number) => ({ value: v })); },
            ticks: { callback: (v: any) => Number(v).toFixed(spec.yDec), font: tickFont, color: "#666", padding: 3, autoSkip: false },
            grid: { display: false, drawTicks: false },
            border: { display: true, color: "#000", width: 3 },
            afterFit: (s: any) => { s.width = S_LEFT_PAD; s.paddingTop = 0; s.paddingBottom = 0; },
          },
        },
      },
      plugins: [plugin],
    };
  });
  return (
    <canvas
      ref={ref}
      width={w}
      height={h}
      style={{ position: "absolute", left: spec.box.l - S_LEFT_PAD, top: spec.box.t - S_TOP_PAD, width: w, height: h }}
    />
  );
}

function PanelLabel({ text, x, y }: { text: string; x: number; y: number }) {
  return (
    <div style={{ position: "absolute", left: x, top: y, transform: "translate(-50%, -50%)", font: `bold 27px ${SANS}`, lineHeight: 1, color: "#000" }}>
      {text}
    </div>
  );
}

export default function App() {
  return (
    <div style={{ position: "absolute", left: 0, top: 0, width: 1417, height: 1837, background: "#fff", overflow: "hidden" }}>
      <PanelLabel text="A" x={91} y={17} />
      <PanelA />
      <LegendA />
      <PanelLabel text="B" x={88} y={621} />
      <PanelB />
      <PanelLabel text="C" x={12} y={1214} />
      {scatterPanels.map((spec, i) => (
        <ScatterPanel key={i} spec={spec} />
      ))}
    </div>
  );
}
